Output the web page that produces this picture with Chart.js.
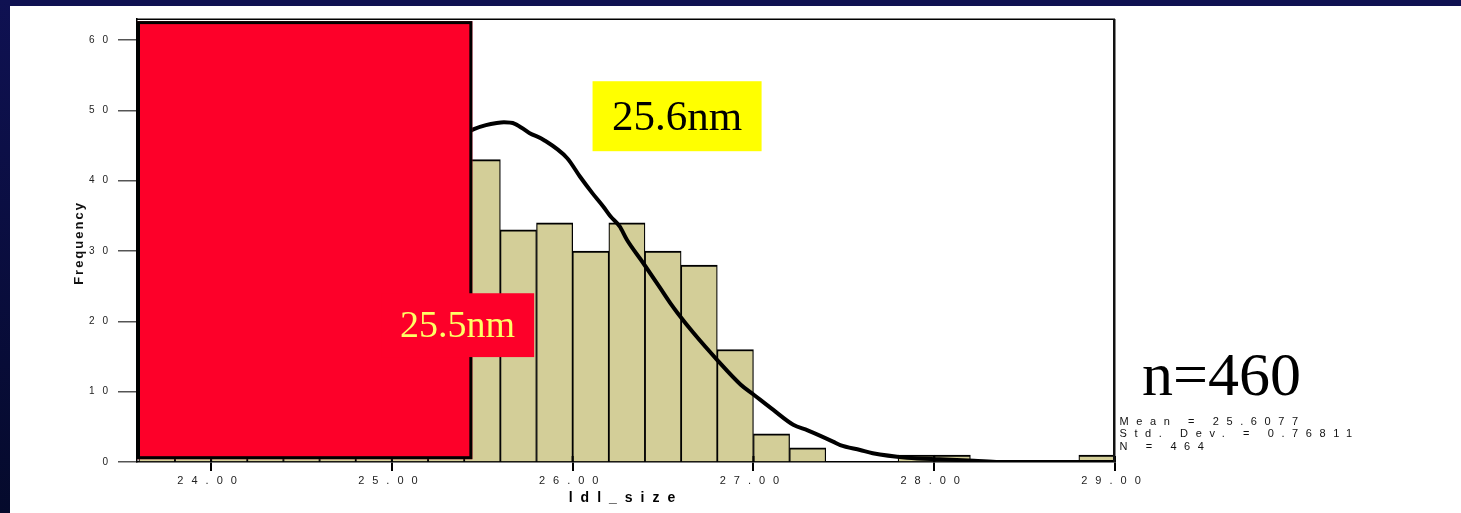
<!DOCTYPE html>
<html>
<head>
<meta charset="utf-8">
<script src="https://cdn.jsdelivr.net/npm/chart.js@4.4.1/dist/chart.umd.min.js"></script>
<style>
  html, body { margin: 0; padding: 0; background: #fff; overflow: hidden; }
  #wrap { position: relative; width: 1461px; height: 513px; }
</style>
</head>
<body>
<div id="wrap"><canvas id="c"></canvas></div>
<script>
// Histogram bins (width 0.2 nm), centre of each bin and its count
const binCenters = [23.7, 23.9, 24.1, 24.3, 24.5, 24.7, 24.9, 25.1, 25.3,
                    25.5, 25.7, 25.9, 26.1, 26.3, 26.5, 26.7, 26.9,
                    27.1, 27.3, 27.5, 27.7, 27.9, 28.1, 28.3, 28.5, 28.7, 28.9];
const binCounts  = [2, 5, 9, 14, 20, 27, 35, 43, 52,
                    43, 33, 34, 30, 34, 30, 28, 16,
                    4, 2, 0, 0, 1, 1, 0, 0, 0, 1];

// Fitted normal curve, sampled points
const curveX = [25.40, 25.45, 25.52, 25.58, 25.62, 25.68, 25.76, 25.84, 25.97, 26.04,
                26.11, 26.17, 26.21, 26.26, 26.30, 26.39, 26.48, 26.54, 26.58, 26.67,
                26.80, 26.93, 27.00, 27.11, 27.22, 27.30, 27.44, 27.48, 27.59, 27.66,
                27.85, 28.03, 28.22, 28.36, 29.00];
const curveY = [46.6, 47.3, 47.9, 48.2, 48.3, 48.1, 46.8, 45.8, 43.2, 40.6,
                38.2, 36.3, 34.9, 33.5, 31.6, 28.3, 24.9, 22.6, 21.2, 18.3,
                14.5, 11.0, 9.6, 7.4, 5.3, 4.5, 2.9, 2.4, 1.7, 1.25,
                0.62, 0.38, 0.19, 0, 0];

const xTickValues = [24, 25, 26, 27, 28, 29];
const yTickValues = [0, 10, 20, 30, 40, 50, 60];

const xTitle = 'ldl_size';
const yTitle = 'Frequency';
const statLines = ['Mean = 25.6077', 'Std. Dev. = 0.76811', 'N = 464'];
const sampleLabel = 'n=460';

// Overlay boxes, in axis units
const maskBox  = { x0: 23.59, x1: 25.445, y0: 0.4, y1: 62.7 };
const leftTag  = { text: '25.5nm', x0: 24.94, x1: 25.787, y0: 14.92, y1: 24.0 };
const rightTag = { text: '25.6nm', x0: 26.11, x1: 27.045, y0: 44.2, y1: 54.15 };

const NAVY = '#0f1152';
const SANS = "'Liberation Sans', Arial, sans-serif";
const SERIF = "'Liberation Serif', 'Times New Roman', serif";

const backdrop = {
  id: 'backdrop',
  beforeDraw(chart) {
    const { ctx, width, height } = chart;
    ctx.save();
    ctx.fillStyle = '#fff';
    ctx.fillRect(0, 0, width, height);
    ctx.fillStyle = NAVY;
    ctx.fillRect(0, 0, width, 6);
    const g = ctx.createLinearGradient(0, 0, 0, height);
    g.addColorStop(0, '#0f1152');
    g.addColorStop(1, '#050a2c');
    ctx.fillStyle = g;
    ctx.fillRect(0, 0, 10, height);
    ctx.restore();
    // spaced-out axis lettering
    ctx.letterSpacing = '8px';
  }
};

const overlay = {
  id: 'overlay',
  afterDraw(chart) {
    const { ctx, chartArea: a, scales: { x, y } } = chart;
    ctx.save();
    ctx.letterSpacing = '0px';

    // inner part of the major x ticks
    ctx.strokeStyle = '#000';
    ctx.lineWidth = 2;
    xTickValues.forEach(v => {
      const px = x.getPixelForValue(v);
      ctx.beginPath();
      ctx.moveTo(px, a.bottom - 6);
      ctx.lineTo(px, a.bottom);
      ctx.stroke();
    });

    // frame: top and right
    ctx.lineWidth = 1.5;
    ctx.beginPath();
    ctx.moveTo(a.left, a.top + 0.25);
    ctx.lineTo(a.right, a.top + 0.25);
    ctx.stroke();
    ctx.lineWidth = 2.5;
    ctx.strokeStyle = '#111';
    ctx.beginPath();
    ctx.moveTo(a.right - 0.75, a.top);
    ctx.lineTo(a.right - 0.75, a.bottom);
    ctx.stroke();

    // red mask over the lower bins
    const mx0 = x.getPixelForValue(maskBox.x0), mx1 = x.getPixelForValue(maskBox.x1);
    const my0 = y.getPixelForValue(maskBox.y1), my1 = y.getPixelForValue(maskBox.y0);
    ctx.fillStyle = '#fd0029';
    ctx.fillRect(mx0, my0, mx1 - mx0, my1 - my0);
    ctx.strokeStyle = '#000';
    ctx.lineWidth = 3;
    ctx.strokeRect(mx0 + 1.5, my0 + 1.5, mx1 - mx0 - 3, my1 - my0 - 3);

    // tag boxes
    const tag = (t, bg, fg, size) => {
      const x0 = x.getPixelForValue(t.x0), x1 = x.getPixelForValue(t.x1);
      const y0 = y.getPixelForValue(t.y1), y1 = y.getPixelForValue(t.y0);
      ctx.fillStyle = bg;
      ctx.fillRect(x0, y0, x1 - x0, y1 - y0);
      ctx.fillStyle = fg;
      ctx.font = size + 'px ' + SERIF;
      ctx.textAlign = 'center';
      ctx.textBaseline = 'middle';
      ctx.fillText(t.text, (x0 + x1) / 2, (y0 + y1) / 2 + 2);
    };
    tag(leftTag, '#fd0029', '#ffff66', 38);
    tag(rightTag, '#ffff00', '#000', 43);

    // sample size
    ctx.fillStyle = '#000';
    ctx.font = '62px ' + SERIF;
    ctx.textAlign = 'left';
    ctx.textBaseline = 'alphabetic';
    ctx.fillText(sampleLabel, a.right + 27, a.bottom - 67);

    // descriptive statistics
    ctx.fillStyle = '#111';
    ctx.font = '11px ' + SANS;
    ctx.letterSpacing = '7.6px';
    statLines.forEach((s, i) => ctx.fillText(s, a.right + 4.5, a.bottom - 37.5 + i * 12.8));

    // vertical axis title
    ctx.letterSpacing = '2px';
    ctx.font = 'bold 13px ' + SANS;
    ctx.translate(a.left - 58, 243);
    ctx.rotate(-Math.PI / 2);
    ctx.textAlign = 'center';
    ctx.textBaseline = 'middle';
    ctx.fillText(yTitle, 0, 0);
    ctx.restore();
  }
};

new Chart(document.getElementById('c'), {
  type: 'bar',
  data: {
    datasets: [
      {
        type: 'line',
        data: curveX.map((v, i) => ({ x: v, y: curveY[i] })),
        borderColor: '#000',
        borderWidth: 4,
        pointRadius: 0,
        cubicInterpolationMode: 'monotone',
        fill: false,
        order: 0
      },
      {
        type: 'bar',
        data: binCenters.map((v, i) => ({ x: v, y: binCounts[i] })),
        backgroundColor: '#d3ce98',
        borderColor: '#000',
        borderWidth: { top: 2, left: 1.25, right: 1.25, bottom: 0 },
        borderSkipped: false,
        barPercentage: 1,
        categoryPercentage: 1,
        grouped: false,
        order: 1
      }
    ]
  },
  options: {
    responsive: true,
    maintainAspectRatio: false,
    animation: false,
    events: [],
    layout: { padding: { left: 0, top: 19, right: 346, bottom: 0 } },
    plugins: { legend: { display: false }, tooltip: { enabled: false } },
    scales: {
      x: {
        type: 'linear',
        min: 23.59,
        max: 29.0,
        offset: false,
        afterBuildTicks: s => { s.ticks = xTickValues.map(v => ({ value: v })); },
        afterFit: s => { s.height = 51; },
        ticks: {
          autoSkip: false,
          maxRotation: 0,
          padding: 3,
          color: '#222',
          font: { family: SANS, size: 11 },
          callback: v => Number(v).toFixed(2)
        },
        grid: { offset: false, drawOnChartArea: false, tickLength: 9, tickWidth: 2, tickColor: '#000', lineWidth: 2 },
        border: { display: true, color: '#000', width: 1.5 },
        title: {
          display: true,
          text: xTitle,
          color: '#000',
          font: { family: SANS, size: 14, weight: 'bold' },
          padding: { top: 0, bottom: 6 }
        }
      },
      y: {
        min: 0,
        max: 63,
        afterBuildTicks: s => { s.ticks = yTickValues.map(v => ({ value: v })); },
        afterFit: s => { s.width = 137; },
        ticks: {
          padding: 2,
          color: '#222',
          font: { family: SANS, size: 10 },
          callback: v => String(v)
        },
        grid: { drawOnChartArea: false, tickLength: 19, tickWidth: 1.5, tickColor: '#555', lineWidth: 1.5 },
        border: { display: true, color: '#000', width: 1.5 }
      }
    }
  },
  plugins: [backdrop, overlay]
});
</script>
</body>
</html>
